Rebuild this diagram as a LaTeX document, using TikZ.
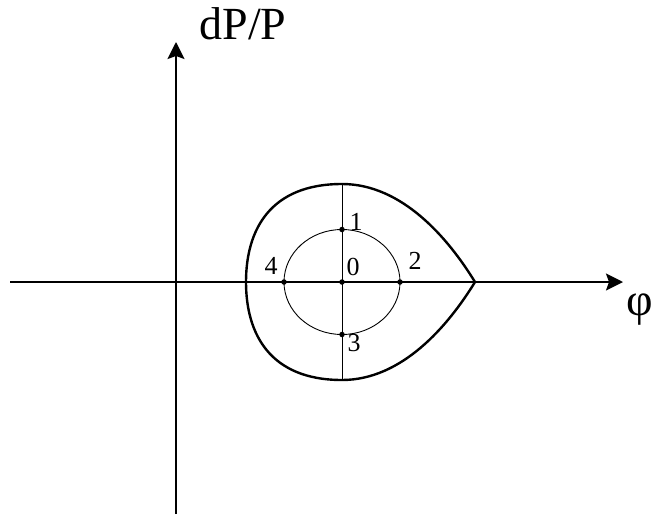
\documentclass[tikz,border=0pt]{standalone}
\usepackage{fontspec}
\setmainfont{Liberation Serif}
\usetikzlibrary{arrows.meta}
\begin{document}
\begin{tikzpicture}[x=1pt,y=-1pt,
  axis/.style={line width=2pt,-{Stealth[length=17pt,width=17pt,inset=3pt]}},
  sep/.style={line width=2.4pt,line join=miter},
  thin/.style={line width=0.9pt},
  dot/.style={circle,fill=black,inner sep=0pt,minimum size=5.5pt},
  lbl/.style={inner sep=0pt,font=\fontsize{26}{26}\selectfont}]
\useasboundingbox (0,0) rectangle (655,514);
% axes
\coordinate (xs) at (10,282);
\coordinate (xe) at (623,282);
\coordinate (ys) at (176,514);
\coordinate (ye) at (176,42);
\draw[axis] (xs) -- (xe);
\draw[axis] (ys) -- (ye);
\node[inner sep=0pt,font=\fontsize{46}{46}\selectfont] (ylab) at (243,24) {dP/P};
\node[inner sep=0pt,font=\fontsize{46}{46}\selectfont] (xlab) at (640,310) {φ};
% centre
\coordinate (c) at (342,282);
\coordinate (vt) at (342,184);
\coordinate (vb) at (342,380);
\draw[thin] (vt) -- (vb);
% separatrix
\draw[sep] (475,282) .. controls (448,238) and (402,184) .. (342,184)
  .. controls (270,184) and (246,230) .. (246,282)
  .. controls (246,334) and (270,380) .. (342,380)
  .. controls (402,380) and (448,326) .. (475,282);
% ellipse
\draw[thin] (c) ellipse [x radius=58, y radius=52.5];
\node[dot] (p0) at (c) {};
\node[dot] (p1) at (342,229.5) {};
\node[dot] (p2) at (400,282) {};
\node[dot] (p3) at (342,334.5) {};
\node[dot] (p4) at (284,282) {};
\node[lbl] (l1) at (356,222) {1};
\node[lbl] (l0) at (353,267) {0};
\node[lbl] (l2) at (415,261) {2};
\node[lbl] (l3) at (354,343) {3};
\node[lbl] (l4) at (271,266) {4};
\end{tikzpicture}
\end{document}
